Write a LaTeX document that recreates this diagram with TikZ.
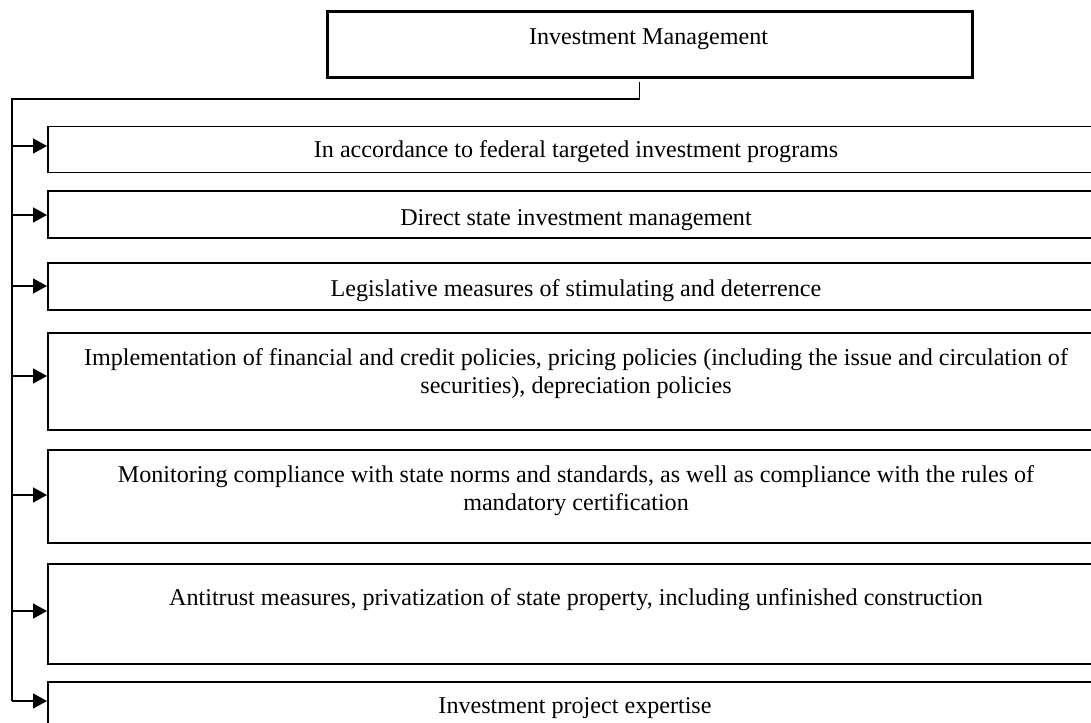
\documentclass[tikz,border=0pt]{standalone}
\usepackage{fontspec}
\setmainfont{Liberation Serif}
\usetikzlibrary{arrows.meta}
\begin{document}
\begin{tikzpicture}[x=1pt,y=-1pt,
  topbox/.style={draw,line width=2.6pt,minimum width=645pt,minimum height=66pt,inner sep=0pt,anchor=north west},
  itembox/.style={draw,line width=1.5pt,minimum width=1058pt,inner sep=0pt,anchor=north west},
  txt/.style={inner sep=0pt,anchor=base,font=\fontsize{24.1}{27.6}\selectfont},
  conn/.style={line width=1.5pt},
  arr/.style={line width=1.5pt,-{Triangle[length=14pt,width=15pt]}}]
\useasboundingbox (0,0) rectangle (1091,722);
\clip (0,0) rectangle (1091,722);
% top box
\node[topbox] (top) at (326,10) {};
\node[txt] (ttop) at (648.5,45) {Investment Management};
% item boxes
\node[itembox,minimum height=46pt] (b1) at (47,126) {};
\node[itembox,minimum height=47pt] (b2) at (47,190) {};
\node[itembox,minimum height=47pt] (b3) at (47,262) {};
\node[itembox,minimum height=97pt] (b4) at (47,332) {};
\node[itembox,minimum height=93pt] (b5) at (47,449) {};
\node[itembox,minimum height=100pt] (b6) at (47,563) {};
\node[itembox,minimum height=60pt] (b7) at (47,681) {};
% texts
\node[txt] (t1) at (576,158) {In accordance to federal targeted investment programs};
\node[txt] (t2) at (576,225) {Direct state investment management};
\node[txt] (t3) at (576,296) {Legislative measures of stimulating and deterrence};
\node[txt] (t4a) at (576,365) {Implementation of financial and credit policies, pricing policies (including the issue and circulation of};
\node[txt] (t4b) at (576,393) {securities), depreciation policies};
\node[txt] (t5a) at (576,482) {Monitoring compliance with state norms and standards, as well as compliance with the rules of};
\node[txt] (t5b) at (576,510) {mandatory certification};
\node[txt] (t6) at (576,605) {Antitrust measures, privatization of state property, including unfinished construction};
\node[txt] (t7) at (575,713) {Investment project expertise};
% connectors
\coordinate (stub) at ([xshift=-10.5pt,yshift=-3pt]top.south);
\coordinate (j1) at (11,146);
\coordinate (j2) at (11,215);
\coordinate (j3) at (11,286);
\coordinate (j4) at (11,376);
\coordinate (j5) at (11,495);
\coordinate (j6) at (11,611);
\coordinate (j7) at (12,701);
\draw[conn] (stub) |- (12,99) -- (12,701);
\draw[arr] (j1) -- (j1 -| b1.west);
\draw[arr] (j2) -- (j2 -| b2.west);
\draw[arr] (j3) -- (j3 -| b3.west);
\draw[arr] (j4) -- (j4 -| b4.west);
\draw[arr] (j5) -- (j5 -| b5.west);
\draw[arr] (j6) -- (j6 -| b6.west);
\draw[arr] (j7) -- (j7 -| b7.west);
\end{tikzpicture}
\end{document}
